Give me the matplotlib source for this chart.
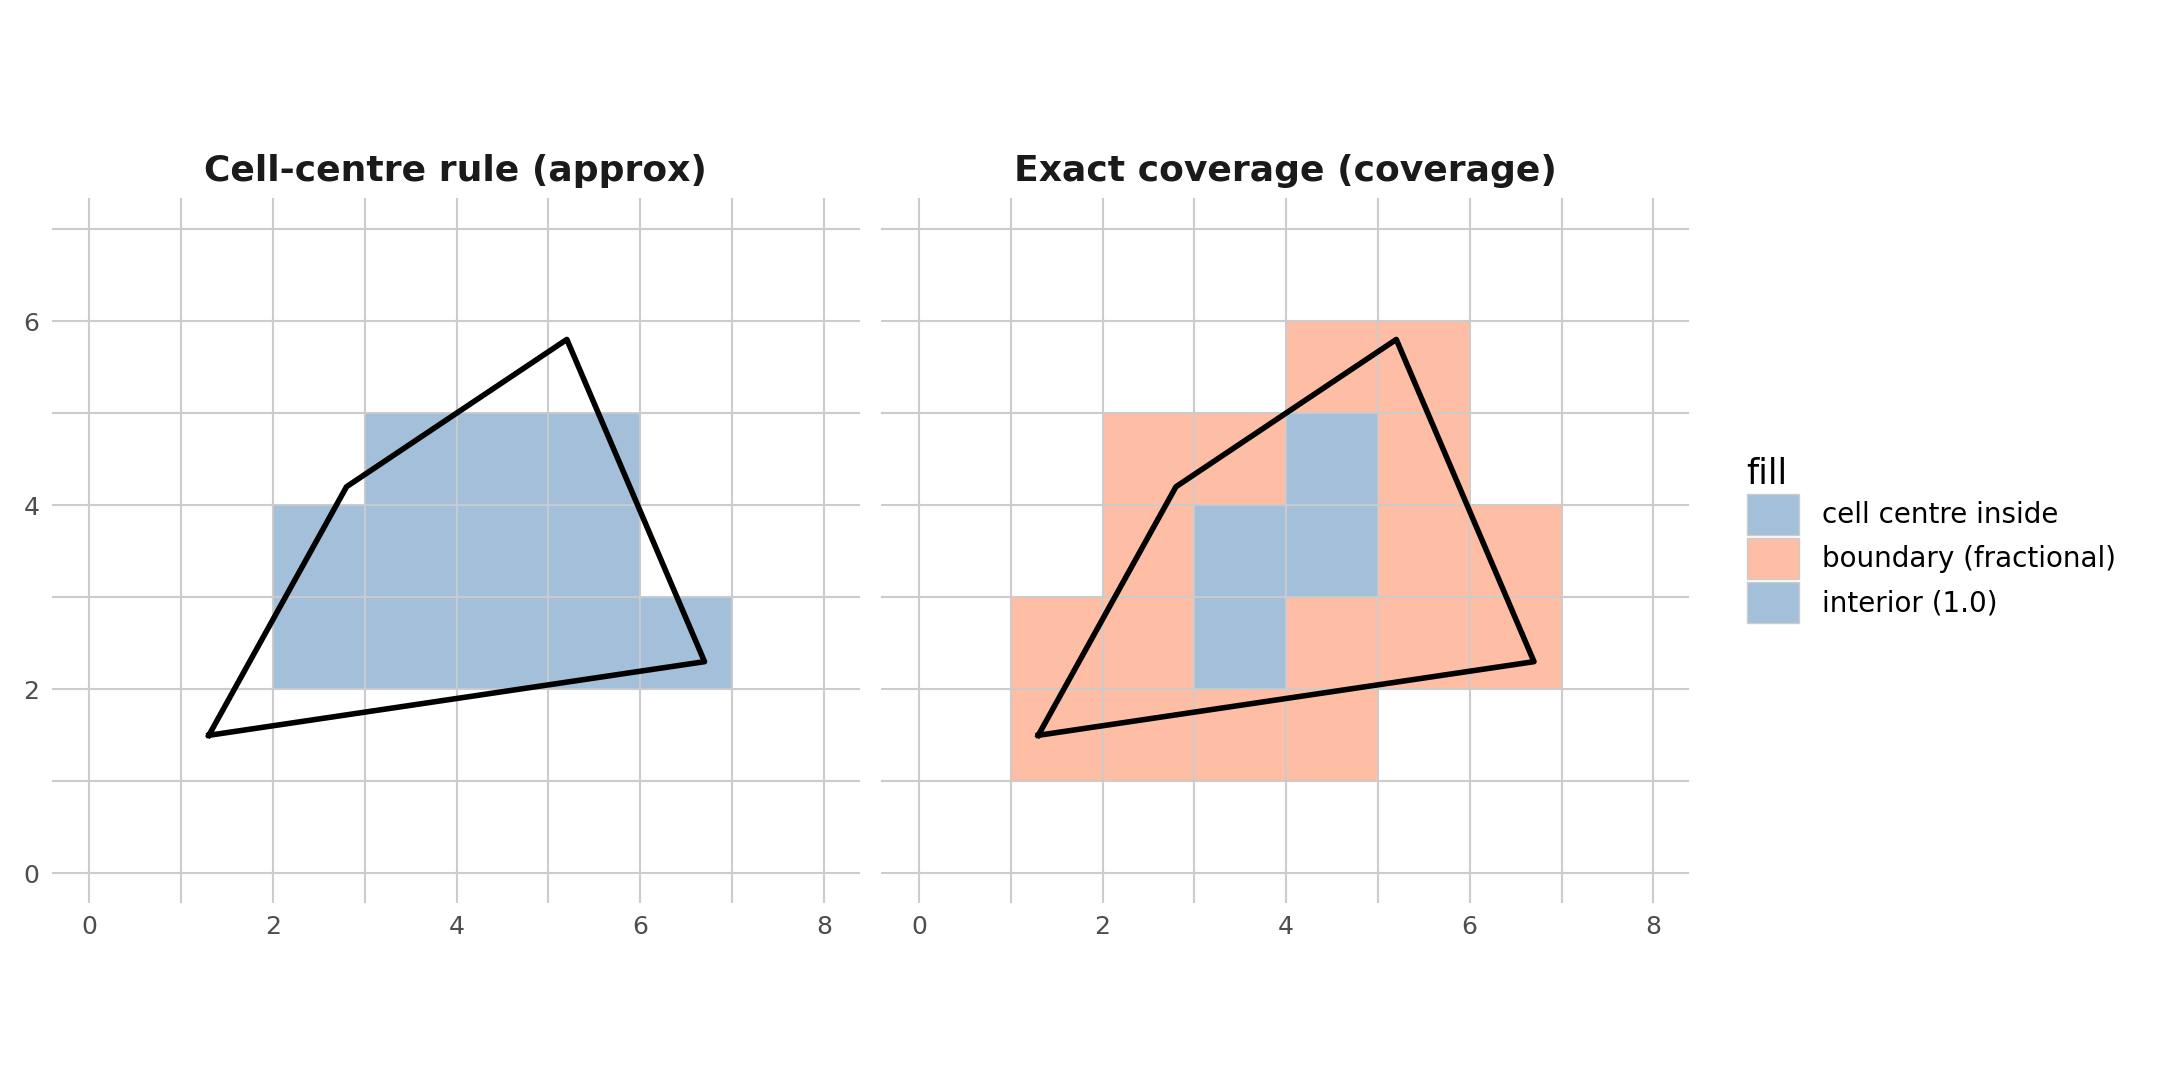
import matplotlib
matplotlib.use("Agg")
import matplotlib.pyplot as plt
from matplotlib.patches import Rectangle, Patch

poly_x = [1.3, 2.8, 5.2, 6.7, 1.3]
poly_y = [1.5, 4.2, 5.8, 2.3, 1.5]

# cells (x, y lower-left) for cell-centre rule
centre_cells = [(2,2),(3,2),(4,2),(5,2),(6,2),(2,3),(3,3),(4,3),(5,3),(3,4),(4,4),(5,4)]
# exact coverage
boundary_cells = [(1,1),(2,1),(3,1),(4,1),(1,2),(2,2),(4,2),(5,2),(6,2),
                  (2,3),(5,3),(6,3),(2,4),(3,4),(5,4),(4,5),(5,5)]
interior_cells = [(3,2),(3,3),(4,3),(4,4)]

BLUE = "#a3bfd9"
SALMON = "#fdbea5"
GRID = "#cccccc"

fig = plt.figure(figsize=(21.6, 10.8), dpi=100)
axL = fig.add_axes([0.024, 0.164, 0.374, 0.653])
axR = fig.add_axes([0.408, 0.164, 0.374, 0.653])

def style(ax, title):
    ax.set_xlim(-0.41, 8.39)
    ax.set_ylim(-0.32, 7.34)
    for s in ax.spines.values():
        s.set_visible(False)
    ax.set_xticks([0, 2, 4, 6, 8])
    ax.set_yticks([0, 2, 4, 6])
    ax.set_xticks([1, 3, 5, 7], minor=True)
    ax.set_yticks([1, 3, 5, 7], minor=True)
    ax.grid(True, which="both", color=GRID, lw=1.5)
    ax.set_axisbelow(True)
    ax.tick_params(which="both", length=0, labelsize=18, colors="#4d4d4d", pad=9)
    ax.set_title(title, fontsize=26, fontweight="bold", color="#1a1a1a", pad=12)

def cells(ax, lst, color):
    for (x, y) in lst:
        ax.add_patch(Rectangle((x, y), 1, 1, facecolor=color, edgecolor=GRID, lw=1.2, zorder=2))

style(axL, "Cell-centre rule (approx)")
cells(axL, centre_cells, BLUE)
axL.plot(poly_x, poly_y, color="black", lw=4, zorder=3)

style(axR, "Exact coverage (coverage)")
cells(axR, boundary_cells, SALMON)
cells(axR, interior_cells, BLUE)
axR.plot(poly_x, poly_y, color="black", lw=4, zorder=3)
axR.set_yticklabels([])

handles = [Patch(facecolor=BLUE, edgecolor=GRID, label="cell centre inside"),
           Patch(facecolor=SALMON, edgecolor=GRID, label="boundary (fractional)"),
           Patch(facecolor=BLUE, edgecolor=GRID, label="interior (1.0)")]
leg = fig.legend(handles=handles, title="fill", loc="center left",
                 bbox_to_anchor=(0.797, 0.5), frameon=False, fontsize=20,
                 title_fontsize=25, handlelength=1.9, handleheight=1.9,
                 labelspacing=0.1, handletextpad=0.8)
leg._legend_box.align = "left"

fig.savefig("out.png", dpi=100, facecolor="white")
